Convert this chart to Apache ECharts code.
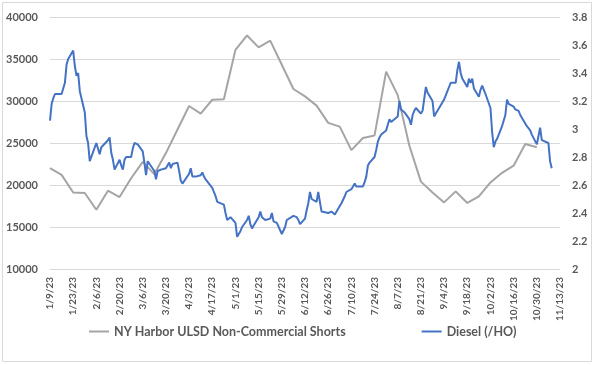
<!DOCTYPE html>
<html>
<head>
<meta charset="utf-8">
<script src="https://cdn.jsdelivr.net/npm/echarts@6/dist/echarts.min.js"></script>
<style>
html,body{margin:0;padding:0;background:#fff;}
#c{width:595px;height:365px;}
</style>
</head>
<body>
<div id="c"></div>
<script>
// Axis range (daily category axis, labels every 14 days)
var startDate = [2023, 0, 9];   // 1/9/23
var dayCount = 309;             // through 11/13/23
var labelEvery = 14;

var seriesNames = ["NY Harbor ULSD Non-Commercial Shorts", "Diesel (/HO)"];

// Weekly COT values (one per week starting 1/9/23)
var shortsWeekly = [
  22000, 21200, 19100, 19050, 17060, 19320, 18570, 20800, 22750, 21300,
  23800, 26600, 29400, 28490, 30150, 30200, 36100, 37800, 36380, 37180,
  34320, 31430, 30550, 29450, 27400, 26950, 24150, 25600, 25900, 33500,
  30700, 24700, 20400, 19100, 17930, 19240, 17860, 18640, 20300, 21450,
  22300, 24880, 24500
];

// Daily Diesel (/HO) settlement, one per weekday starting Mon 1/9/23
var dieselDaily = [
  3.06, 3.18, 3.22, 3.25, 3.26,
  3.25, 3.25, 3.33, 3.46, 3.50,
  3.56, 3.45, 3.38, 3.40, 3.27,
  3.12, 2.95, 2.90, 2.77, 2.76,
  2.90, 2.89, 2.82, 2.87, 2.88,
  2.92, 2.94, 2.83, 2.78, 2.71,
  2.78, 2.74, 2.71, 2.78, 2.80,
  2.80, 2.86, 2.90, 2.90, 2.89,
  2.84, 2.76, 2.67, 2.77, 2.77,
  2.70, 2.64, 2.70, 2.71, 2.71,
  2.72, 2.73, 2.76, 2.72, 2.75,
  2.76, 2.70, 2.63, 2.61, 2.62,
  2.68, 2.72, 2.66, 2.67, 2.66,
  2.67, 2.69, 2.66, 2.64, 2.63,
  2.58, 2.55, 2.52, 2.48, 2.49,
  2.46, 2.40, 2.35, 2.36, 2.37,
  2.33, 2.23, 2.25, 2.27, 2.30,
  2.35, 2.38, 2.32, 2.29, 2.31,
  2.37, 2.41, 2.37, 2.36, 2.35,
  2.36, 2.40, 2.34, 2.35, 2.33,
  2.25, 2.24, 2.30, 2.35, 2.36,
  2.38, 2.39, 2.37, 2.35, 2.32,
  2.36, 2.42, 2.47, 2.55, 2.50,
  2.48, 2.55, 2.48, 2.41, 2.42,
  2.40, 2.39, 2.41, 2.42, 2.39,
  2.45, 2.47, 2.47, 2.52, 2.55,
  2.57, 2.59, 2.61, 2.59, 2.58,
  2.59, 2.62, 2.66, 2.74, 2.76,
  2.80, 2.85, 2.91, 2.94, 2.96,
  2.99, 3.03, 3.07, 3.05, 3.04,
  3.09, 3.20, 3.14, 3.13, 3.12,
  3.07, 3.03, 3.10, 3.13, 3.15,
  3.11, 3.13, 3.14, 3.30, 3.26,
  3.20, 3.09, 3.11, 3.11, 3.15,
  3.21, 3.20, 3.27, 3.30, 3.33,
  3.33, 3.42, 3.48, 3.40, 3.36,
  3.30, 3.36, 3.33, 3.36, 3.29,
  3.23, 3.28, 3.31, 3.28, 3.25,
  3.15, 2.98, 2.87, 2.91, 2.93,
  3.02, 3.01, 3.10, 3.21, 3.18,
  3.16, 3.14, 3.15, 3.13, 3.10,
  3.04, 3.02, 3.03, 2.99, 2.96,
  2.89, 2.95, 3.01, 2.92, 2.93,
  2.90, 2.77, 2.72
];

var leftAxis = {min: 10000, max: 40000, interval: 5000};
var rightAxis = {min: 2, max: 3.8, interval: 0.2};

// ---- build
var categories = [];
for (var i = 0; i < dayCount; i++) {
  var dt = new Date(startDate[0], startDate[1], startDate[2] + i);
  categories.push((dt.getMonth() + 1) + "/" + dt.getDate() + "/" + String(dt.getFullYear()).slice(2));
}
var shortsData = shortsWeekly.map(function (v, k) { return [k * 7, v]; });
var dieselData = dieselDaily.map(function (v, i) { return [Math.floor(i / 5) * 7 + (i % 5), v]; });

var txt = '#595959';
var fontFam = 'Lato, "Open Sans", sans-serif';

var chart = echarts.init(document.getElementById('c'), null, {renderer: 'canvas'});
chart.setOption({
  animation: false,
  backgroundColor: '#fff',
  graphic: [{
    type: 'rect', shape: {x: 2.5, y: 2.5, width: 589, height: 359},
    style: {fill: 'none', stroke: '#d9d9d9', lineWidth: 1}, silent: true
  }],
  grid: {left: 50, right: 35, top: 17, bottom: 96},
  legend: {
    bottom: 22, left: 84,
    itemGap: 76, itemWidth: 20, itemHeight: 2, icon: 'rect',
    textStyle: {color: txt, fontSize: 12.5, fontWeight: 'bold', fontFamily: fontFam},
    data: seriesNames
  },
  xAxis: {
    type: 'category', data: categories, boundaryGap: false,
    axisLine: {show: false}, axisTick: {show: false},
    axisLabel: {
      interval: labelEvery - 1, rotate: 90, margin: 8,
      color: txt, fontSize: 10, fontWeight: 'bold', fontFamily: fontFam
    },
    splitLine: {show: false}
  },
  yAxis: [{
    type: 'value', min: leftAxis.min, max: leftAxis.max, interval: leftAxis.interval,
    axisLine: {show: false}, axisTick: {show: false},
    axisLabel: {margin: 12, color: txt, fontSize: 11, fontWeight: 'bold', fontFamily: fontFam,
      formatter: function (v) { return String(v); }},
    splitLine: {lineStyle: {color: '#d9d9d9', width: 1}}
  }, {
    type: 'value', min: rightAxis.min, max: rightAxis.max, interval: rightAxis.interval,
    axisLine: {show: false}, axisTick: {show: false},
    axisLabel: {margin: 12, color: txt, fontSize: 11, fontWeight: 'bold', fontFamily: fontFam,
      formatter: function (v) { return String(Math.round(v * 10) / 10); }},
    splitLine: {show: false}
  }],
  series: [{
    name: seriesNames[0], type: 'line', yAxisIndex: 0, data: shortsData,
    showSymbol: false, symbol: 'none',
    lineStyle: {color: '#a5a5a5', width: 2}, itemStyle: {color: '#a5a5a5'}
  }, {
    name: seriesNames[1], type: 'line', yAxisIndex: 1, data: dieselData,
    showSymbol: false, symbol: 'none',
    lineStyle: {color: '#4472c4', width: 2}, itemStyle: {color: '#4472c4'}
  }]
});
</script>
</body>
</html>
